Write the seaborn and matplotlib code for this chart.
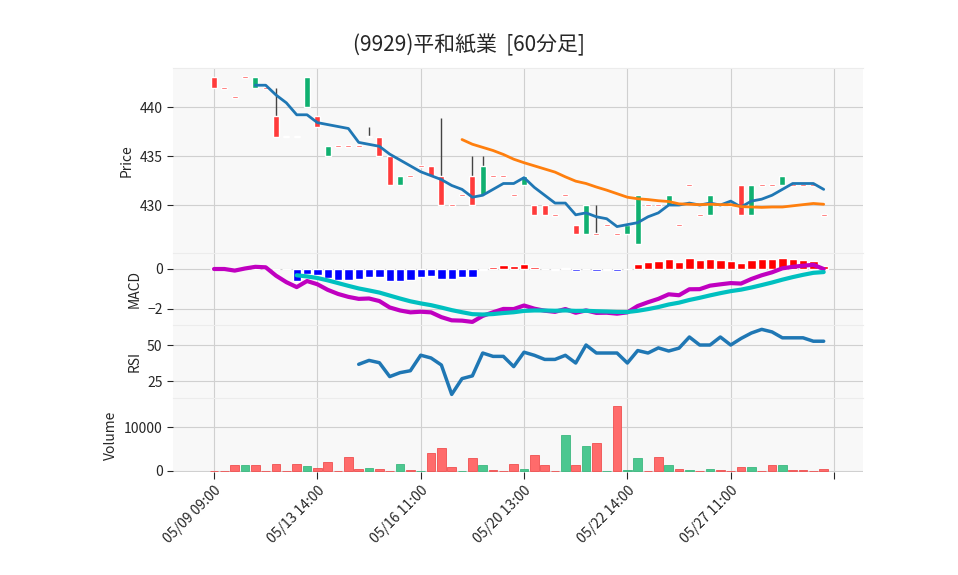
"""60-minute candle chart with MACD, RSI and volume panels."""

import matplotlib.pyplot as plt
import numpy as np
import pandas as pd
import seaborn as sns

# candle data (one bar per hour)
opens = [443.1, 442.0, 441.0, 443.1, 442.0, 442.0, 439.1, 437.0, 437.0, 440.0,
         439.1, 435.0, 436.0, 436.0, 436.0, 437.0, 437.0, 435.0, 432.0, 433.0,
         434.0, 434.0, 433.0, 430.0, 431.0, 433.0, 431.0, 433.0, 433.0, 431.0,
         432.0, 430.0, 430.0, 429.0, 431.0, 428.0, 427.0, 427.0, 428.0, 427.0,
         427.0, 426.0, 430.0, 430.0, 430.0, 428.0, 432.0, 429.0, 429.0, 430.0,
         430.0, 432.0, 429.0, 432.0, 432.0, 432.0, 432.0, 432.0, 432.0, 429.0]
closes = [442.0, 442.0, 441.0, 443.1, 443.1, 442.0, 437.0, 437.0, 437.0, 443.1,
          438.0, 436.0, 436.0, 436.0, 436.0, 437.0, 435.0, 432.0, 433.0, 433.0,
          434.0, 433.0, 430.0, 430.0, 431.0, 430.0, 434.0, 433.0, 433.0, 431.0,
          433.0, 429.0, 429.0, 429.0, 431.0, 427.0, 430.0, 427.0, 428.0, 427.0,
          428.0, 431.0, 430.0, 430.0, 431.0, 428.0, 432.0, 429.0, 431.0, 430.0,
          430.0, 429.0, 432.0, 432.0, 432.0, 433.0, 432.0, 432.0, 432.0, 429.0]
# upper wicks that stick out beyond the body
high_wicks = {6: 442.0, 15: 438.0, 22: 438.9, 25: 435.0, 26: 435.0, 37: 430.0}
volumes = [0, 0, 1260, 1260, 1260, 0, 1480, 0, 1700, 1040,
           590, 2150, 0, 3260, 370, 590, 370, 0, 1700, 150,
           0, 4150, 5260, 810, 0, 3040, 1260, 150, 0, 1700,
           370, 3700, 1260, 0, 8150, 1260, 5700, 6370, 0, 14800,
           150, 3040, 0, 3260, 1260, 370, 150, 0, 370, 150,
           0, 810, 810, 0, 1260, 1260, 150, 150, 0, 370]
tick_labels = ["05/09 09:00", "05/13 14:00", "05/16 11:00", "05/20 13:00",
               "05/22 14:00", "05/27 11:00", ""]

df = pd.DataFrame({"open": opens, "close": closes, "volume": volumes})
df["x"] = np.arange(len(df))
df["high"] = df[["open", "close"]].max(axis=1)
for k, v in high_wicks.items():
    df.loc[k, "high"] = v
df["ma5"] = df["close"].rolling(5).mean()
df["ma25"] = df["close"].rolling(25).mean()

ema12 = df["close"].ewm(span=12, adjust=False).mean()
ema26 = df["close"].ewm(span=26, adjust=False).mean()
df["macd"] = ema12 - ema26
df["signal"] = df["macd"].ewm(span=9, adjust=False).mean()
df["hist"] = df["macd"] - df["signal"]
df.loc[:7, ["signal", "hist"]] = np.nan

delta = df["close"].diff()
gain = delta.clip(lower=0).rolling(14).mean()
loss = (-delta.clip(upper=0)).rolling(14).mean()
df["rsi"] = 100 - 100 / (1 + gain / loss)

sns.set_style("whitegrid", {"axes.facecolor": "#f8f8f8", "grid.color": "#d0d0d0"})
plt.rcParams["font.family"] = "Noto Sans CJK JP"

fig = plt.figure(figsize=(9.58, 5.75), dpi=100)
gs = fig.add_gridspec(4, 1, height_ratios=[185, 72, 73, 74], hspace=0,
                      left=0.1806, right=0.9008, top=1 - 68 / 575, bottom=1 - 472 / 575)
axes = [fig.add_subplot(gs[i]) for i in range(4)]
ax_p, ax_m, ax_r, ax_v = axes

RED, GREEN = "#ff3b3b", "#10b070"

# candles
up = df["close"] > df["open"]
colors = np.where(up, GREEN, RED)
ax_p.vlines(df["x"], df[["open", "close"]].min(axis=1), df["high"], color="#444444", lw=1, zorder=2)
body = (df["close"] - df["open"]).abs()
ax_p.bar(df["x"], np.maximum(body, 0.2), bottom=df[["open", "close"]].min(axis=1) - np.where(body == 0, 0.1, 0),
         width=0.6, color=colors, zorder=3)
sns.lineplot(data=df, x="x", y="ma5", ax=ax_p, color="#1f77b4", lw=2, zorder=4)
sns.lineplot(data=df, x="x", y="ma25", ax=ax_p, color="#ff7f0e", lw=2, zorder=4)
ax_p.set_ylim(425.1, 444.0)
ax_p.set_yticks([430, 435, 440])
ax_p.set_ylabel("Price")

# MACD
hcol = np.where(df["hist"] >= 0, "#ff0000", "#0000ff")
ax_m.bar(df["x"], df["hist"].fillna(0), width=0.8, color=hcol, zorder=2)
sns.lineplot(data=df, x="x", y="macd", ax=ax_m, color="#c000c0", lw=3, zorder=3)
sns.lineplot(data=df, x="x", y="signal", ax=ax_m, color="#00c0c0", lw=3, zorder=3)
ax_m.set_ylim(-2.8, 0.8)
ax_m.set_yticks([-2, 0])
ax_m.set_ylabel("MACD")

# RSI
sns.lineplot(data=df, x="x", y="rsi", ax=ax_r, color="#1f77b4", lw=2.5)
ax_r.set_ylim(13.2, 63.9)
ax_r.set_yticks([25, 50])
ax_r.set_ylabel("RSI")

# volume
vup = df["close"].diff() > 0
ax_v.bar(df["x"], df["volume"], width=0.85, color=np.where(vup, "#4cc790", "#ff6b6b"),
         edgecolor=np.where(vup, "#3cb880", "#f05050"), lw=0.6)
ax_v.set_ylim(-230, 16600)
ax_v.set_yticks([0, 10000])
ax_v.set_ylabel("Volume")

for ax in axes:
    ax.set_xlim(-3.97, 62.8)
    ax.set_xticks(np.arange(0, 61, 10))
    ax.set_xlabel("")
    ax.tick_params(axis="y", length=4, left=True, labelsize=10)
    for s in ax.spines.values():
        s.set_visible(False)
    ax.spines["top"].set_visible(True)
    ax.spines["top"].set_color("#ececec")
    if ax is not ax_v:
        ax.tick_params(axis="x", labelbottom=False, bottom=False)
ax_v.set_xticklabels(tick_labels, rotation=45, ha="right", rotation_mode="anchor")
ax_v.tick_params(axis="x", bottom=True, length=5, labelsize=10)

fig.suptitle("(9929)平和紙業  [60分足]", x=0.49, y=1 - 45 / 575, va="center", fontsize=15)
fig.savefig("out.png", dpi=100)
